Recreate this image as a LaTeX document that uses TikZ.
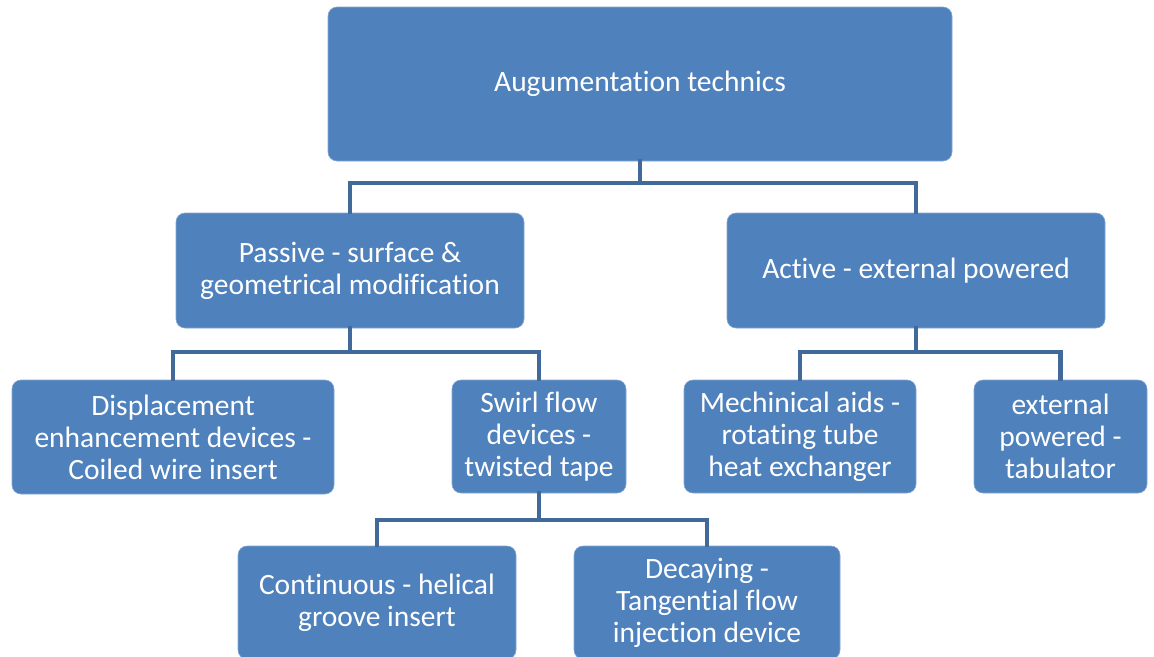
\documentclass[tikz,border=0pt]{standalone}
\usepackage{fontspec}
\setmainfont{Carlito}[Ligatures=NoCommon]
\definecolor{boxblue}{HTML}{4F81BD}
\definecolor{connblue}{HTML}{41699A}
\begin{document}
\begin{tikzpicture}[x=1pt,y=-1pt,
  box/.style={fill=boxblue, draw=boxblue!70!white, line width=0.6pt, rounded corners=9pt,
    text=white, align=center, inner sep=0pt,
    font=\fontsize{29.5}{32}\selectfont},
  conn/.style={draw=connblue, line width=4.5pt, line join=miter}]
\useasboundingbox (0,0) rectangle (1154,656);
\begin{scope}
\clip (0,0) rectangle (1154,656);
\node[box, minimum width=624pt, minimum height=154pt] (top) at (640,84) {Augumentation technics};
\node[box, minimum width=348pt, minimum height=115pt] (passive) at (350,270.5) {Passive - surface \&\\geometrical modification};
\node[box, minimum width=378pt, minimum height=115pt] (active) at (916,270.5) {Active - external powered};
\node[box, minimum width=322pt, minimum height=114pt] (displ) at (173,437) {Displacement\\enhancement devices -\\Coiled wire insert};
\node[box, minimum width=174pt, minimum height=113pt] (swirl) at (539,436.5) {Swirl flow\\devices -\\twisted tape};
\node[box, minimum width=232pt, minimum height=113pt] (mech) at (800,436.5) {Mechinical aids -\\rotating tube\\heat exchanger};
\node[box, minimum width=173pt, minimum height=113pt] (ext) at (1060.5,436.5) {external\\powered -\\tabulator};
\node[box, minimum width=278pt, minimum height=113pt] (cont) at (377,602.5) {Continuous - helical\\groove insert};
\node[box, minimum width=266pt, minimum height=113pt] (decay) at (707,602.5) {Decaying -\\Tangential flow\\injection device};

\coordinate (j1) at (640,183);
\coordinate (j2) at (350,352);
\coordinate (j3) at (916,352);
\coordinate (j4) at (539,520);

\draw[conn] ([yshift=2pt]top.south) -- (j1) -| ([yshift=-1pt]passive.north);
\draw[conn] (j1) -| ([yshift=-1pt]active.north);
\draw[conn] ([yshift=2pt]passive.south) -- (j2) -| ([yshift=-1pt]displ.north);
\draw[conn] (j2) -| ([yshift=-1pt]swirl.north);
\draw[conn] ([yshift=2pt]active.south) -- (j3) -| ([yshift=-1pt]mech.north);
\draw[conn] (j3) -| ([yshift=-1pt]ext.north);
\draw[conn] ([yshift=2pt]swirl.south) -- (j4) -| ([yshift=-1pt]cont.north);
\draw[conn] (j4) -| ([yshift=-1pt]decay.north);
\end{scope}
\end{tikzpicture}
\end{document}
